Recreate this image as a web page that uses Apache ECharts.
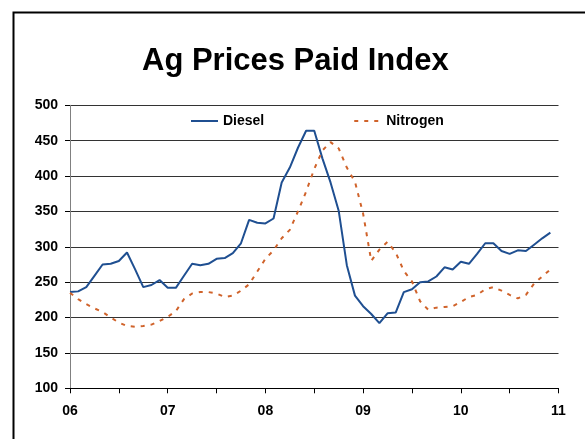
<!DOCTYPE html>
<html>
<head>
<meta charset="utf-8">
<script src="https://cdn.jsdelivr.net/npm/echarts@6/dist/echarts.min.js"></script>
<style>
html,body{margin:0;padding:0;background:#fff;}
#chart{width:585px;height:439px;}
</style>
</head>
<body>
<div id="chart"></div>
<script>
// Monthly index values, Jan 2006 .. Dec 2010
const diesel = [236,237,243,259,275,276,280,292,268,243,246,253,
                242,242,259,276,274,276,283,284,291,305,338,334,
                333,340,391,412,440,464,464,425,391,351,274,231,
                216,205,192,206,207,236,240,250,251,258,271,268,
                279,276,290,305,305,294,290,295,294,303,312,320];
const nitrogen = [235,226,219,213,208,200,193,188,187,188,190,195,
                  201,209,226,234,236,236,234,229,231,238,247,265,
                  283,295,312,324,350,378,410,436,448,439,412,392,
                  347,280,296,307,292,266,251,223,211,214,215,216,
                  222,229,232,240,243,238,232,227,232,248,258,268];
const yearLabels = ['06','07','08','09','10','11'];
const seriesNames = ['Diesel','Nitrogen'];

const chart = echarts.init(document.getElementById('chart'), null, {renderer:'canvas'});
const font = '"Liberation Sans", Arial, sans-serif';
chart.setOption({
  animation:false,
  backgroundColor:'#fff',
  title:{
    text:'Ag Prices Paid Index',
    left:142, top:46, padding:0,
    textStyle:{fontFamily:font,fontWeight:'bold',fontSize:31,color:'#000'}
  },
  legend:{
    left:190, top:114, padding:0,
    itemWidth:27, itemHeight:14, itemGap:89,
    data:seriesNames,
    itemStyle:{opacity:0},
    textStyle:{fontFamily:font,fontWeight:'bold',fontSize:14,color:'#000'}
  },
  grid:{left:70, right:26.5, top:105.3, bottom:50.7, containLabel:false},
  xAxis:{
    type:'value', min:0, max:60, interval:6,
    axisLine:{show:true,lineStyle:{color:'#000',width:1}},
    axisTick:{show:true,length:5,lineStyle:{color:'#000'}},
    splitLine:{show:false},
    axisLabel:{
      margin:16,
      fontFamily:font,fontWeight:'bold',fontSize:14,color:'#000',
      formatter:function(v){ return (v % 12 === 0) ? yearLabels[v/12] : ''; }
    }
  },
  yAxis:{
    type:'value', min:100, max:500, interval:50,
    axisLine:{show:true,lineStyle:{color:'#808080',width:1}},
    axisTick:{show:true,length:5,lineStyle:{color:'#000'}},
    splitLine:{show:true,lineStyle:{color:'#333',width:1}},
    axisLabel:{margin:12,fontFamily:font,fontWeight:'bold',fontSize:14,color:'#000'}
  },
  graphic:[{
    type:'rect', left:11, top:10, silent:true,
    shape:{x:0,y:0,width:640,height:500},
    style:{fill:'none',stroke:'#000',lineWidth:2}
  }],
  series:[
    {name:seriesNames[0], type:'line', symbol:'none', showSymbol:false,
     data:diesel.map((v,i)=>[i,v]),
     lineStyle:{color:'#1F4F91',width:2}, itemStyle:{color:'#1F4F91'}},
    {name:seriesNames[1], type:'line', symbol:'none', showSymbol:false,
     data:nitrogen.map((v,i)=>[i,v]),
     lineStyle:{color:'#D0632B',width:2,type:[4,6]}, itemStyle:{color:'#D0632B'}}
  ]
});
</script>
</body>
</html>
